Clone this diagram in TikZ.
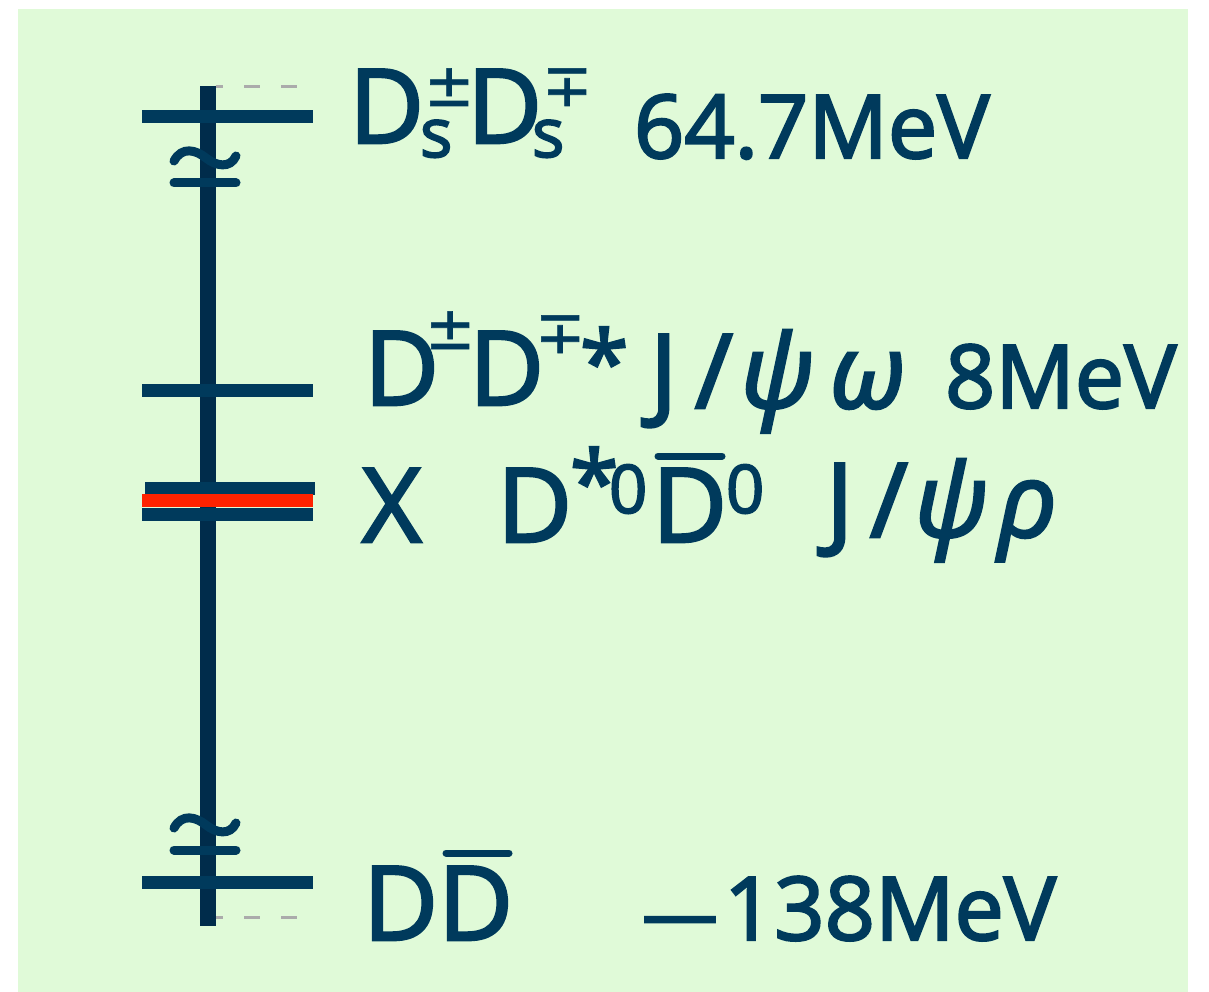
\documentclass[tikz,border=0pt]{standalone}
\usepackage{fontspec}
\setmainfont{Open Sans}[FakeBold=2.6]
\newfontfamily\symf{DejaVu Sans}[FakeBold=1.2]
\definecolor{ink}{HTML}{003A5C}
\definecolor{axis}{HTML}{002C4B}
\definecolor{bg}{HTML}{E0FAD8}
\definecolor{xline}{HTML}{FF2200}
\definecolor{guide}{HTML}{ABABAB}
\newcommand{\bigf}{\fontsize{103}{110}\selectfont}
\newcommand{\numf}{\fontsize{88}{96}\selectfont}
\newcommand{\subf}{\fontsize{68}{76}\selectfont}
\newcommand{\supf}{\symf\fontsize{60}{64}\selectfont}
\newcommand{\zerof}{\fontsize{67}{72}\selectfont}
\newcommand{\dashf}{\fontsize{76}{80}\selectfont}
\begin{document}
\begin{tikzpicture}[x=1pt,y=-1pt,
  txt/.style={anchor=base west,inner sep=0pt,outer sep=0pt,text=ink},
  level/.style={draw=ink,line width=13pt},
  xlevel/.style={draw=xline,line width=13pt},
  axisline/.style={draw=axis,line width=16pt},
  breakmark/.style={draw=ink,line width=9pt,line cap=round},
  guideline/.style={draw=guide,line width=3pt,dash pattern=on 16pt off 21pt,dash phase=9pt},
  barline/.style={draw=ink,line width=7pt,line cap=round}]
\useasboundingbox (0,0) rectangle (1209,992);
\fill[bg] (18,9) rectangle (1188,992);

% energy axis
\coordinate (axtop) at (208,86);
\coordinate (axbot) at (208,926);
\draw[axisline] (axtop) -- (axbot);

% dashed guides at both ends
\coordinate (gt1) at (216,87);  \coordinate (gt2) at (300,87);
\coordinate (gb1) at (216,917); \coordinate (gb2) at (300,917);
\draw[guideline] (gt1) -- (gt2);
\draw[guideline] (gb1) -- (gb2);

% levels
\coordinate (l1a) at (142,117); \coordinate (l1b) at (313,117);
\coordinate (l2a) at (142,390); \coordinate (l2b) at (313,390);
\coordinate (l3a) at (145,488); \coordinate (l3b) at (315,488);
\coordinate (l4a) at (142,514); \coordinate (l4b) at (313,514);
\coordinate (l5a) at (142,882); \coordinate (l5b) at (313,882);
\coordinate (xa) at (142,500);  \coordinate (xb) at (313,500);
\draw[level] (l1a) -- (l1b);
\draw[level] (l2a) -- (l2b);
\draw[level] (l3a) -- (l3b);
\draw[level] (l4a) -- (l4b);
\draw[level] (l5a) -- (l5b);
\draw[xlevel] (xa) -- (xb);

% axis breaks
\draw[breakmark] (174,161) .. controls (182,146) and (196,150) .. (206,158)
                 .. controls (216,166) and (230,169) .. (236,156);
\draw[breakmark] (174,183) -- (236,183);
\draw[breakmark] (174,828) .. controls (182,813) and (196,817) .. (206,825)
                 .. controls (216,833) and (230,836) .. (236,823);
\draw[breakmark] (174,850) -- (236,850);

% top threshold
\node[txt,font=\bigf] (ds1) at (349,143) {D};
\node[txt,font=\supf] (ds1p) at (424,106) {±};
\node[txt,font=\subf] (ds1s) at (420,157) {s};
\node[txt,font=\bigf] (ds2) at (467,143) {D};
\node[txt,font=\supf] (ds2p) at (542,106) {∓};
\node[txt,font=\subf] (ds2s) at (532,157) {s};
\node[txt,font=\numf] (e1) at (634,158) {64.7MeV};

% charged D D* threshold
\node[txt,font=\bigf] (dc1) at (364,405) {D};
\node[txt,font=\supf] (dc1p) at (425,349) {±};
\node[txt,font=\bigf] (dc2) at (469,405) {D};
\node[txt,font=\supf] (dc2p) at (535,353) {∓};
\node[txt,font=\numf] (dc2s) at (580,394) {*};
\node[txt,font=\bigf] (jw) at (650,408) {J};
\node[txt,font=\bigf] (jws) at (695,408) {/};
\node[txt,font=\bigf\itshape] (psi1) at (740,408) {ψ};
\node[txt,font=\bigf\itshape] (om) at (830,408) {ω};
\node[txt,font=\numf] (e2) at (945,408) {8MeV};

% X(3872) row
\node[txt,font=\bigf] (x) at (362,542) {X};
\node[txt,font=\bigf] (dn1) at (497,542) {D};
\node[txt,font=\numf] (dn1s) at (570,514) {*};
\node[txt,font=\zerof] (dn1z) at (609,513) {0};
\node[txt,font=\bigf] (dn2) at (652,542) {D};
\node[txt,font=\zerof] (dn2z) at (726,513) {0};
\coordinate (ob1a) at (658,456); \coordinate (ob1b) at (722,456);
\draw[barline] (ob1a) -- (ob1b);
\node[txt,font=\bigf] (jr) at (826,537) {J};
\node[txt,font=\bigf] (jrs) at (870,537) {/};
\node[txt,font=\bigf\itshape] (psi2) at (914,537) {ψ};
\node[txt,font=\bigf\itshape] (rho) at (998,537) {ρ};

% lowest threshold
\node[txt,font=\bigf] (dd1) at (363,940) {D};
\node[txt,font=\bigf] (dd2) at (438,940) {D};
\coordinate (ob2a) at (446,853); \coordinate (ob2b) at (509,853);
\draw[barline] (ob2a) -- (ob2b);
\node[txt,font=\dashf] (mn) at (642,940) {—};
\node[txt,font=\numf] (e3) at (724,940) {138MeV};
\end{tikzpicture}
\end{document}
